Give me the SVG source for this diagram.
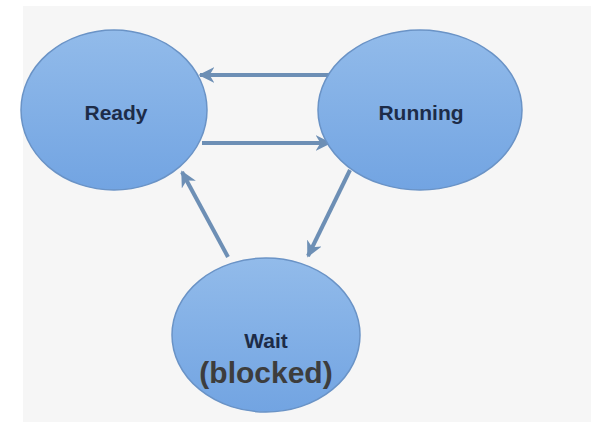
<svg xmlns="http://www.w3.org/2000/svg" width="591" height="422" viewBox="0 0 591 422">
<style>
.node{fill:url(#blue);stroke:#6a93c6;stroke-width:1.5}
.lbl{font-family:"Liberation Sans",Arial,sans-serif;font-size:21px;font-weight:bold;fill:#1d2c48;text-anchor:middle}
.big{font-family:"Liberation Sans",Arial,sans-serif;font-size:30px;font-weight:bold;fill:#3d3d3d;text-anchor:middle}
.edge{stroke:#6d8fb5;stroke-width:4;fill:none;marker-end:url(#arr)}
</style>
<defs>
<linearGradient id="blue" x1="0" y1="0" x2="0" y2="1">
<stop offset="0" stop-color="#92bbea"/>
<stop offset="1" stop-color="#72a4e2"/>
</linearGradient>
<marker id="arr" viewBox="0 0 10 10" refX="9" refY="5" markerWidth="4" markerHeight="4" orient="auto">
<path d="M0,0 L10,5 L0,10 L3,5 Z" fill="#6d8fb5"/>
</marker>
</defs>
<rect x="23" y="6" width="568" height="416" fill="#f6f6f6"/>
<g id="connectors">
<line class="edge" x1="332" y1="75" x2="200" y2="75"/>
<line class="edge" x1="202" y1="143" x2="330" y2="143"/>
<line class="edge" x1="228" y1="257" x2="182" y2="172"/>
<line class="edge" x1="350" y1="170" x2="308" y2="256"/>
</g>
<g id="ready">
<ellipse class="node" cx="114" cy="110" rx="93" ry="80"/>
<text class="lbl" x="116" y="120">Ready</text>
</g>
<g id="running">
<ellipse class="node" cx="420" cy="110" rx="102" ry="80"/>
<text class="lbl" x="421" y="120">Running</text>
</g>
<g id="wait">
<ellipse class="node" cx="266" cy="335" rx="94" ry="77"/>
<text class="lbl" x="266" y="348">Wait</text>
<text class="big" x="266" y="383">(blocked)</text>
</g>
</svg>
